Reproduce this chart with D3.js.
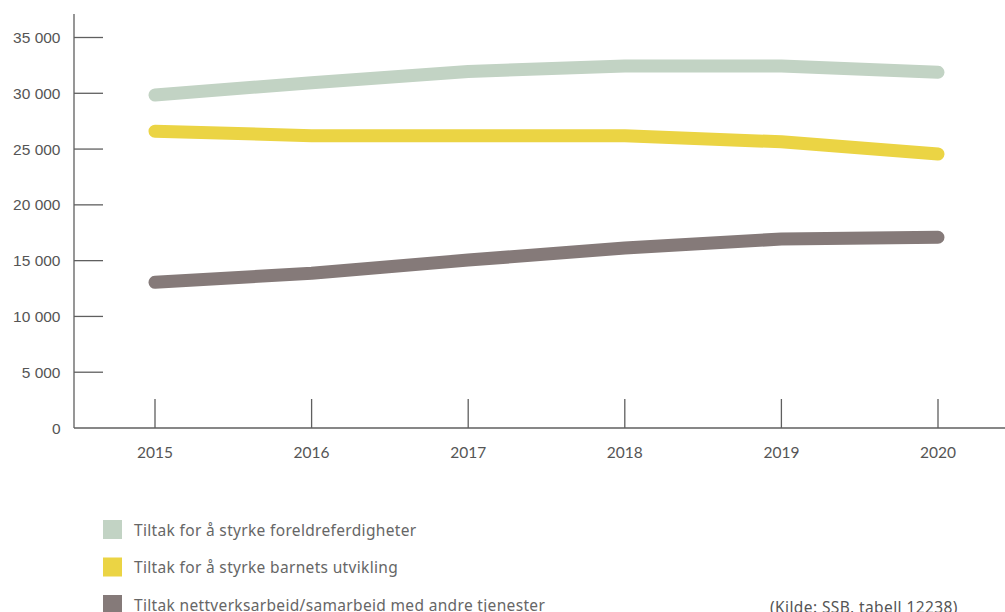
<!DOCTYPE html>
<html><head><meta charset="utf-8">
<script src="https://cdn.jsdelivr.net/npm/d3@7"></script>
<style>body{margin:0;background:#fff}</style>
</head><body>
<svg id="c" width="1005" height="612"></svg>
<script>
const years = [2015, 2016, 2017, 2018, 2019, 2020];
const seriesNames = [
  "Tiltak for å styrke foreldreferdigheter",
  "Tiltak for å styrke barnets utvikling",
  "Tiltak nettverksarbeid/samarbeid med andre tjenester"
];
const foreldre = [29850, 30950, 31950, 32450, 32450, 31880];
const barnets = [26600, 26200, 26200, 26200, 25650, 24550];
const nettverk = [13060, 13870, 15050, 16130, 16940, 17090];
const colors = ["#c2d3c4", "#ebd444", "#857a79"];
const yTicks = [0, 5000, 10000, 15000, 20000, 25000, 30000, 35000];
const source = "(Kilde: SSB, tabell 12238)";

const svg = d3.select("#c");
const axisCol = "#5f5f5f";
const x = d3.scalePoint().domain(years).range([155, 938]);
const y = d3.scaleLinear().domain([0, 35000]).range([428, 37.5]);

// y axis
svg.append("line").attr("x1",74).attr("x2",74).attr("y1",14).attr("y2",428)
  .attr("stroke",axisCol).attr("stroke-width",1.3);
svg.selectAll(".yt").data(yTicks.filter(d=>d>0)).join("line")
  .attr("x1",74).attr("x2",103).attr("y1",d=>y(d)).attr("y2",d=>y(d))
  .attr("stroke",axisCol).attr("stroke-width",1.3);
const fmt = d => d===0 ? "0" : d3.format(",")(d).replace(/,/g, "\u00a0");
svg.selectAll(".yl").data(yTicks).join("text")
  .attr("x",60.5).attr("y",d=>y(d)+5.5).attr("text-anchor","end")
  .attr("font-family","Liberation Sans, Arial, sans-serif").attr("font-size",15.5)
  .attr("fill","#555").text(fmt);

// x axis
svg.append("line").attr("x1",74).attr("x2",1005).attr("y1",428).attr("y2",428)
  .attr("stroke",axisCol).attr("stroke-width",1.3);
svg.selectAll(".xt").data(years).join("line")
  .attr("x1",d=>x(d)).attr("x2",d=>x(d)).attr("y1",399).attr("y2",428)
  .attr("stroke",axisCol).attr("stroke-width",1.3);
svg.selectAll(".xl").data(years).join("text")
  .attr("x",d=>x(d)).attr("y",457.5).attr("text-anchor","middle")
  .attr("font-family","Lato, sans-serif").attr("font-size",15.5)
  .attr("fill","#555").text(d=>d);

// lines
const allSeries = [foreldre, barnets, nettverk];
const line = d3.line().x((d,i)=>x(years[i])).y(d=>y(d));
allSeries.forEach((s,k)=>{
  svg.append("path").attr("d",line(s)).attr("fill","none")
    .attr("stroke",colors[k]).attr("stroke-width",13)
    .attr("stroke-linecap","round").attr("stroke-linejoin","round");
});

// legend
seriesNames.forEach((n,k)=>{
  const yy = 520 + k*37.5;
  svg.append("rect").attr("x",103).attr("y",yy).attr("width",19).attr("height",19)
    .attr("fill",colors[k]);
  svg.append("text").attr("x",134).attr("y",yy+15.5)
    .attr("font-family","Noto Sans, sans-serif").attr("font-size",15.5)
    .attr("letter-spacing",0.33)
    .attr("fill","#666").text(n);
});
svg.append("text").attr("x",770).attr("y",612.5)
  .attr("font-family","Noto Sans, sans-serif").attr("font-size",15.5)
  .attr("letter-spacing",0.4)
  .attr("fill","#555").text(source);
</script>
</body></html>
